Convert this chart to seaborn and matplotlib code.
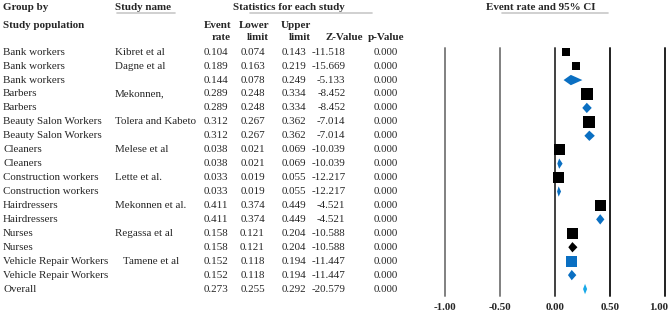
import numpy as np
import pandas as pd
import seaborn as sns
import matplotlib.pyplot as plt
from matplotlib.transforms import blended_transform_factory, ScaledTranslation

# Forest plot data ############################################################

groups = ['Bank workers', 'Bank workers', 'Bank workers', 'Barbers', 'Barbers',
          'Beauty Salon Workers', 'Beauty Salon Workers', 'Cleaners', 'Cleaners',
          'Construction workers', 'Construction workers', 'Hairdressers',
          'Hairdressers', 'Nurses', 'Nurses', 'Vehicle Repair Workers',
          'Vehicle Repair Workers', 'Overall']
studies = ['Kibret et al', 'Dagne et al', '', 'Mekonnen,', '', 'Tolera and Kabeto', '',
           'Melese et al', '', 'Lette et al.', '', 'Mekonnen et al.', '',
           'Regassa et al', '', '   Tamene et al', '', '']
event_rate = [0.104, 0.189, 0.144, 0.289, 0.289, 0.312, 0.312, 0.038, 0.038,
              0.033, 0.033, 0.411, 0.411, 0.158, 0.158, 0.152, 0.152, 0.273]
lower = [0.074, 0.163, 0.078, 0.248, 0.248, 0.267, 0.267, 0.021, 0.021,
         0.019, 0.019, 0.374, 0.374, 0.121, 0.121, 0.118, 0.118, 0.255]
upper = [0.143, 0.219, 0.249, 0.334, 0.334, 0.362, 0.362, 0.069, 0.069,
         0.055, 0.055, 0.449, 0.449, 0.204, 0.204, 0.194, 0.194, 0.292]
z_value = [-11.518, -15.669, -5.133, -8.452, -8.452, -7.014, -7.014, -10.039,
           -10.039, -12.217, -12.217, -4.521, -4.521, -10.588, -10.588,
           -11.447, -11.447, -20.579]
p_value = [0.0] * 18
# 'study' = single study (square), 'pooled' = subgroup / overall (diamond)
kind = ['study', 'study', 'pooled', 'study', 'pooled', 'study', 'pooled',
        'study', 'pooled', 'study', 'pooled', 'study', 'pooled', 'study',
        'pooled', 'study', 'pooled', 'overall']
# relative weights
weight = [8, 8, 0, 12, 0, 12, 0, 11, 0, 11, 0, 11, 0, 11, 0, 11, 0, 0]
mark_color = ['black', 'black', 'blue', 'black', 'blue', 'black', 'blue',
              'black', 'blue', 'black', 'blue', 'black', 'blue', 'black',
              'black', 'blue', 'blue', 'light']

xticks = [-1.0, -0.5, 0.0, 0.5, 1.0]

df = pd.DataFrame({'group': groups, 'study': studies, 'er': event_rate,
                   'lo': lower, 'up': upper, 'z': z_value, 'p': p_value,
                   'kind': kind, 'w': weight, 'col': mark_color})
df['row'] = np.arange(len(df))

colors = {'black': '#000000', 'blue': '#0A6FC2', 'light': '#19A9E8'}

# Figure ######################################################################

sns.set_style('white')
plt.rcParams['font.family'] = ['Liberation Serif', 'DejaVu Serif']
FS = 7.9

W, H = 670, 314
fig = plt.figure(figsize=(W / 100, H / 100), dpi=100)
ax = fig.add_axes([445 / W, (H - 296) / H, 220 / W, 248 / H])

for x, c in zip(xticks, ['#808080', '#808080', '#404040', '#202020', '#202020']):
    ax.axvline(x, color=c, lw=1.4, clip_on=False, zorder=0)

sq = df[df['kind'] == 'study']
sns.scatterplot(data=sq, x='er', y='row', hue='col', size='w', marker='s',
                palette=colors, sizes={w: (w * 0.72) ** 2 for w in sq['w'].unique()},
                edgecolor='none', legend=False, ax=ax, zorder=3)

for _, r in df[df['kind'] != 'study'].iterrows():
    h = 0.37
    ax.fill([r['lo'], r['er'], r['up'], r['er']],
            [r['row'], r['row'] - h, r['row'], r['row'] + h],
            color=colors[r['col']], lw=0, zorder=3)

ax.set_xlim(-1, 1)
ax.set_ylim(17.5, -0.3)
ax.set_yticks([])
ax.set_xticks(xticks)
ax.set_xticklabels([f'{t:.2f}' for t in xticks], fontweight='bold', fontsize=FS)
ax.tick_params(axis='x', length=0, pad=5)
# keep the last label inside the figure
last = ax.get_xticklabels()[-1]
last.set_transform(last.get_transform() + ScaledTranslation(-6 / 100, 0, fig.dpi_scale_trans))
ax.set_xlabel('')
ax.set_ylabel('')
sns.despine(ax=ax, left=True, bottom=True)

# Table text ##################################################################

tr = blended_transform_factory(fig.transFigure, ax.transData)
for _, r in df.iterrows():
    y = r['row']
    ax.text(3 / W, y, r['group'], transform=tr, fontsize=FS, va='center')
    ax.text(115 / W, y, r['study'], transform=tr, fontsize=FS, va='center')
    ax.text(228.5 / W, y, f"{r['er']:.3f}", transform=tr, fontsize=FS, va='center', ha='right')
    ax.text(265 / W, y, f"{r['lo']:.3f}", transform=tr, fontsize=FS, va='center', ha='right')
    ax.text(306 / W, y, f"{r['up']:.3f}", transform=tr, fontsize=FS, va='center', ha='right')
    ax.text(345.5 / W, y, f"{r['z']:.3f}", transform=tr, fontsize=FS, va='center', ha='right')
    ax.text(398 / W, y, f"{r['p']:.3f}", transform=tr, fontsize=FS, va='center', ha='right')


def ftext(x, y, s, ha='left'):
    fig.text(x / W, 1 - y / H, s, fontsize=FS, fontweight='bold', ha=ha, va='center')


ftext(3, 8, 'Group by')
ftext(3, 25, 'Study population')
ftext(115, 8, 'Study name')
ftext(233, 8, 'Statistics for each study')
ftext(486, 8, 'Event rate and 95% CI')
ftext(231, 25, 'Event', 'right')
ftext(231, 38, 'rate', 'right')
ftext(269, 25, 'Lower', 'right')
ftext(269, 38, 'limit', 'right')
ftext(311, 25, 'Upper', 'right')
ftext(311, 38, 'limit', 'right')
ftext(363, 38, 'Z-Value', 'right')
ftext(404, 38, 'p-Value', 'right')

for x0, x1 in [(117, 175), (250, 372), (502, 608)]:
    fig.add_artist(plt.Line2D([x0 / W, x1 / W], [1 - 12.5 / H] * 2,
                              color='#c8c8c8', lw=1.2))

plt.savefig('out.png', dpi=100)
